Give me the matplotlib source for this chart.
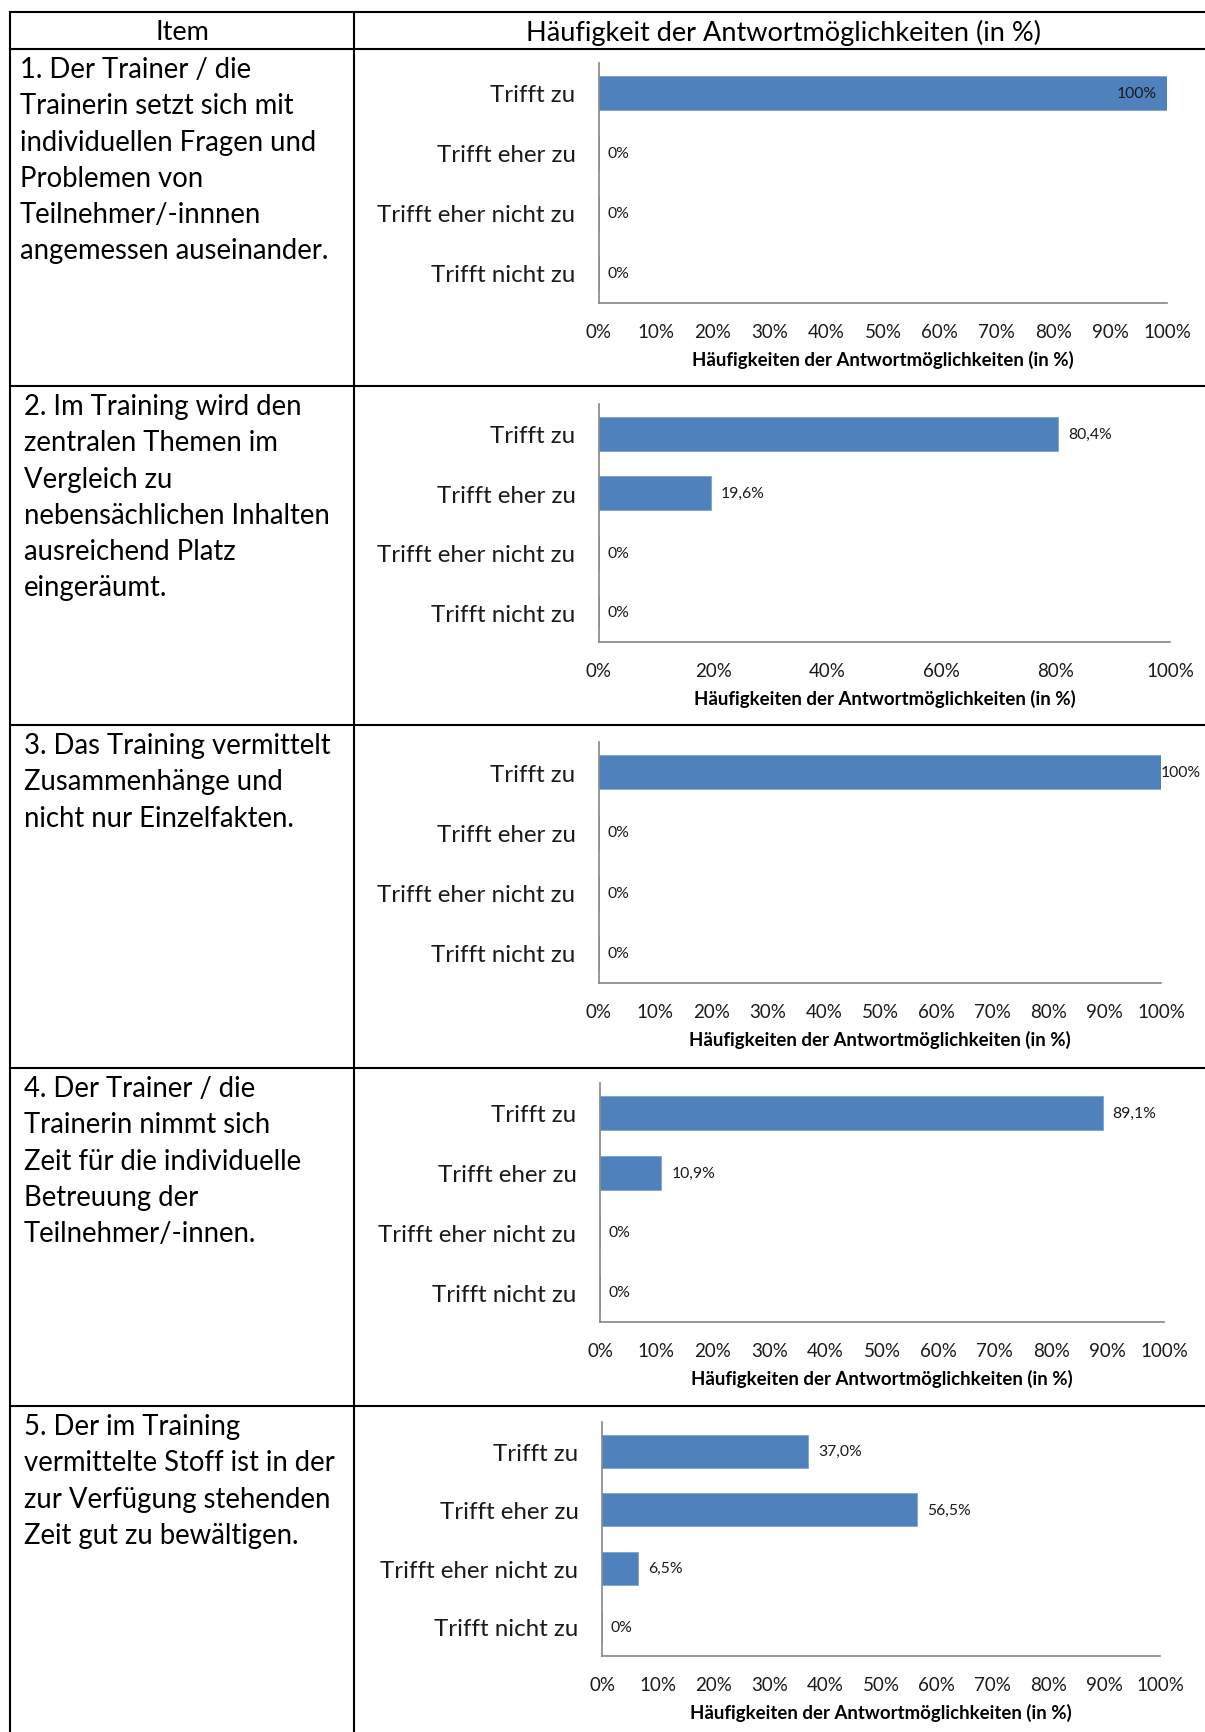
import matplotlib
matplotlib.use('Agg')
import matplotlib.pyplot as plt
from matplotlib.lines import Line2D

plt.rcParams['font.family'] = ['Lato', 'DejaVu Sans']

# Answer categories (top to bottom)
categories = ['Trifft zu', 'Trifft eher zu', 'Trifft eher nicht zu', 'Trifft nicht zu']

# Item texts (left column)
items = [
    '1. Der Trainer / die\nTrainerin setzt sich mit\nindividuellen Fragen und\nProblemen von\nTeilnehmer/-innnen\nangemessen auseinander.',
    '2. Im Training wird den\nzentralen Themen im\nVergleich zu\nnebensächlichen Inhalten\nausreichend Platz\neingeräumt.',
    '3. Das Training vermittelt\nZusammenhänge und\nnicht nur Einzelfakten.',
    '4. Der Trainer / die\nTrainerin nimmt sich\nZeit für die individuelle\nBetreuung der\nTeilnehmer/-innen.',
    '5. Der im Training\nvermittelte Stoff ist in der\nzur Verfügung stehenden\nZeit gut zu bewältigen.',
]

# Percentages per item
values_1 = [100, 0, 0, 0]
values_2 = [80.4, 19.6, 0, 0]
values_3 = [100, 0, 0, 0]
values_4 = [89.1, 10.9, 0, 0]
values_5 = [37.0, 56.5, 6.5, 0]

labels_1 = ['100%', '0%', '0%', '0%']
labels_2 = ['80,4%', '19,6%', '0%', '0%']
labels_3 = ['100%', '0%', '0%', '0%']
labels_4 = ['89,1%', '10,9%', '0%', '0%']
labels_5 = ['37,0%', '56,5%', '6,5%', '0%']

tick_step = [10, 20, 10, 10, 10]

all_values = [values_1, values_2, values_3, values_4, values_5]
all_labels = [labels_1, labels_2, labels_3, labels_4, labels_5]

W, H = 1205, 1733
fig = plt.figure(figsize=(W / 100, H / 100), dpi=100)

# pixel boxes of the chart panels: left, right, top, bottom
boxes = [
    (599, 1167, 64, 304),
    (599, 1170, 405, 643),
    (599, 1161, 743, 984),
    (600, 1164, 1084, 1323),
    (602, 1160, 1423, 1657),
]
row_tops = [50, 387, 726, 1069, 1407]
text_x = [20, 24, 24, 24, 24]

bar_color = '#4F81BD'
axis_color = '#868686'


def fline(x0, y0, x1, y1):
    fig.add_artist(Line2D([x0 / W, x1 / W], [1 - y0 / H, 1 - y1 / H],
                          color='black', lw=1.5, transform=fig.transFigure))


# table grid
fline(10, 13, W, 13)
for y in row_tops:
    fline(10, y, W, y)
fline(10, 13, 10, H)
fline(354, 13, 354, H)

fig.text(182 / W, 1 - 33 / H, 'Item', ha='center', va='center', fontsize=19.5)
fig.text(784 / W, 1 - 33 / H, 'Häufigkeit der Antwortmöglichkeiten (in %)',
         ha='center', va='center', fontsize=19.5)

for i in range(5):
    fig.text(text_x[i] / W, 1 - (row_tops[i] + 7) / H, items[i], ha='left', va='top',
             fontsize=19.8, linespacing=1.49)

    l, r, t, b = boxes[i]
    ax = fig.add_axes([l / W, 1 - b / H, (r - l) / W, (b - t) / H])
    vals = all_values[i]
    ypos = list(range(len(categories)))
    ax.barh(ypos, vals, height=0.57, color=bar_color, edgecolor='#7FA3D1', linewidth=0.6)
    ax.set_xlim(0, 100)
    ax.set_ylim(3.5, -0.5)
    ax.set_yticks(ypos)
    ax.set_yticklabels(categories, fontsize=17.4, color='#1a1a1a')
    step = tick_step[i]
    ticks = list(range(0, 101, step))
    ax.set_xticks(ticks)
    ax.set_xticklabels([f'{v}%' for v in ticks], fontsize=13.5, color='#1a1a1a')
    ax.tick_params(axis='both', length=0)
    ax.tick_params(axis='x', pad=14.5)
    ax.tick_params(axis='y', pad=17)
    for s in ['top', 'right']:
        ax.spines[s].set_visible(False)
    for s in ['left', 'bottom']:
        ax.spines[s].set_color(axis_color)
        ax.spines[s].set_linewidth(1.2)
    ax.set_xlabel('Häufigkeiten der Antwortmöglichkeiten (in %)', fontsize=13.4,
                  fontweight='bold', labelpad=7)

    for j, (v, lab) in enumerate(zip(vals, all_labels[i])):
        if v >= 100 and i == 0:
            ax.annotate(lab, (v, j), xytext=(-7, 0), textcoords='offset points',
                        ha='right', va='center', fontsize=11.3, color='#1a1a1a')
        elif v >= 100:
            ax.annotate(lab, (v, j), xytext=(0, 0), textcoords='offset points',
                        ha='left', va='center', fontsize=11.3, color='#1a1a1a')
        elif v == 0:
            ax.annotate(lab, (v, j), xytext=(6, 0), textcoords='offset points',
                        ha='left', va='center', fontsize=11.3, color='#1a1a1a')
        else:
            ax.annotate(lab, (v, j), xytext=(7, 0), textcoords='offset points',
                        ha='left', va='center', fontsize=11.3, color='#1a1a1a')

fig.savefig('out.png', dpi=100)
